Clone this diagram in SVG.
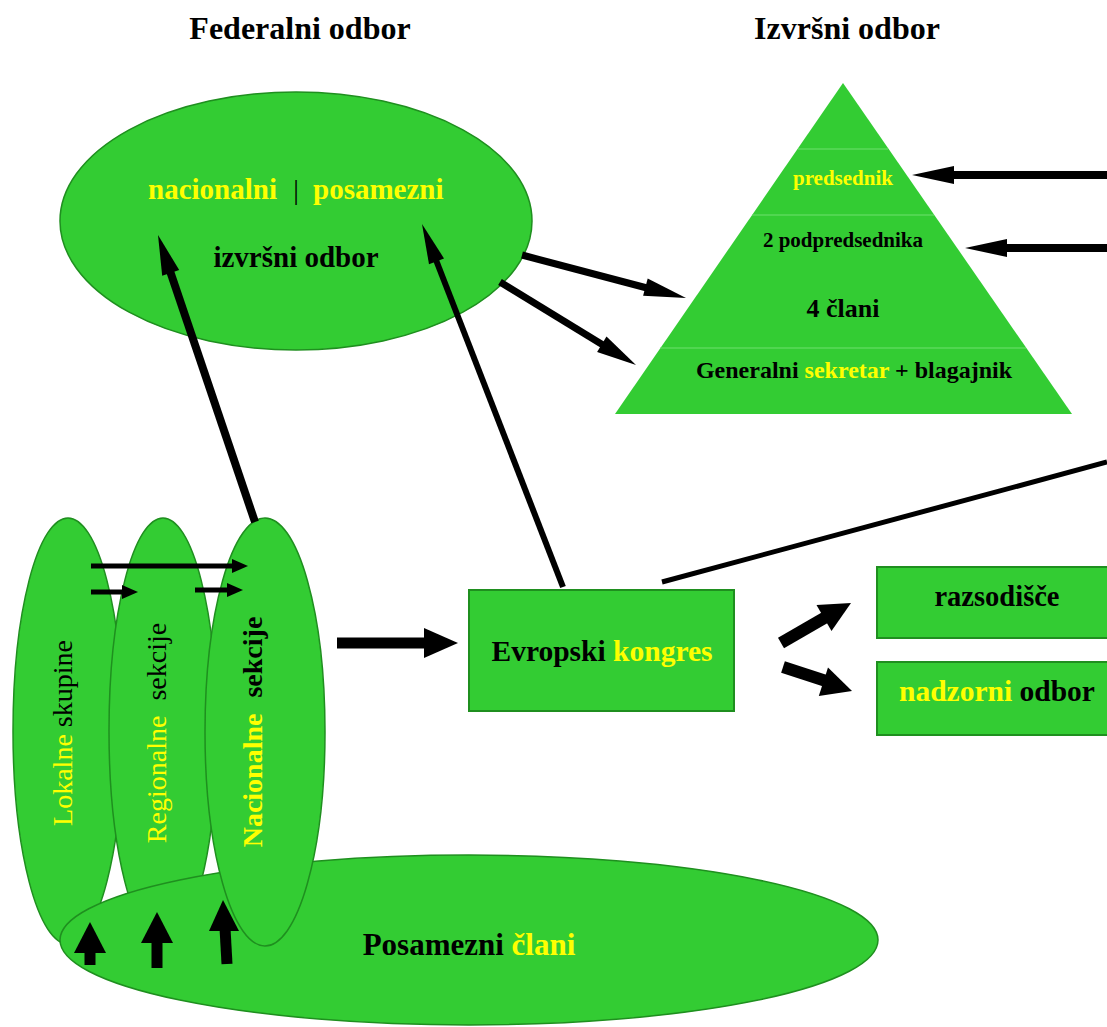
<svg xmlns="http://www.w3.org/2000/svg" width="1107" height="1027" viewBox="0 0 1107 1027">
<style>
text{font-family:"Liberation Serif","Times New Roman",serif;}
.b{font-weight:bold;}
.y{fill:#ffff00;}
.k{fill:#000000;}
.node{fill:#33cc33;stroke:#1f8f1f;stroke-width:1.5;}
.box{fill:#33cc33;stroke:#1f8f1f;stroke-width:2;}
.div{stroke:#6ee06e;stroke-width:1;}
.sh{stroke:#000;fill:none;stroke-linecap:butt;}
.hd{fill:#000;}
</style>
<rect width="1107" height="1027" fill="#ffffff"/>
<text x="300" y="39" text-anchor="middle" class="b" font-size="32">Federalni odbor</text>
<text x="847" y="39" text-anchor="middle" class="b" font-size="32">Izvršni odbor</text>

<g id="federalni">
<ellipse class="node" cx="296" cy="221" rx="236" ry="129"/>
<text x="277" y="199" text-anchor="end" class="b y" font-size="29">nacionalni</text>
<text x="296" y="199" text-anchor="middle" class="k" font-size="28">|</text>
<text x="313" y="199" class="b y" font-size="29">posamezni</text>
<text x="296" y="267" text-anchor="middle" class="b k" font-size="29">izvršni odbor</text>
</g>

<g id="izvrsni">
<polygon points="843,83 1072,414 615,414" fill="#33cc33"/>
<line class="div" x1="798" y1="149" x2="888" y2="149"/>
<line class="div" x1="752" y1="215" x2="934" y2="215"/>
<line class="div" x1="660" y1="348" x2="1026" y2="348"/>
<text x="843" y="185" text-anchor="middle" class="b y" font-size="21">predsednik</text>
<text x="843" y="247" text-anchor="middle" class="b k" font-size="21">2 podpredsednika</text>
<text x="843" y="317" text-anchor="middle" class="b k" font-size="26">4 člani</text>
<text x="854" y="378" text-anchor="middle" class="b k" font-size="24">Generalni <tspan class="y">sekretar</tspan> + blagajnik</text>
</g>

<g id="lokalne">
<ellipse class="node" cx="68" cy="731" rx="55" ry="213"/>
<text transform="translate(72,733) rotate(-90)" text-anchor="middle" font-size="28"><tspan class="y">Lokalne</tspan> <tspan class="k">skupine</tspan></text>
</g>
<g id="regionalne">
<ellipse class="node" cx="163" cy="731" rx="54" ry="213"/>
<text transform="translate(166,733) rotate(-90)" text-anchor="middle" font-size="28"><tspan class="y">Regionalne</tspan><tspan class="k" dx="15">sekcije</tspan></text>
</g>
<g id="posamezni">
<ellipse class="node" cx="469" cy="940" rx="409" ry="85"/>
<text x="469" y="955" text-anchor="middle" class="b k" font-size="31">Posamezni <tspan class="y">člani</tspan></text>
</g>
<g id="nacionalne">
<ellipse class="node" cx="265" cy="732" rx="60" ry="214"/>
<text transform="translate(262,732) rotate(-90)" text-anchor="middle" class="b" font-size="28"><tspan class="y">Nacionalne</tspan><tspan class="k" dx="16">sekcije</tspan></text>
</g>

<g id="kongres">
<rect class="box" x="469" y="590" width="265" height="121"/>
<text x="602" y="661" text-anchor="middle" class="b k" font-size="29.5">Evropski <tspan class="y">kongres</tspan></text>
</g>
<g id="razsodisce">
<rect class="box" x="877" y="567" width="240" height="71"/>
<text x="997" y="606" text-anchor="middle" class="b k" font-size="28.5">razsodišče</text>
</g>
<g id="nadzorni">
<rect class="box" x="877" y="662" width="240" height="73"/>
<text x="997" y="701" text-anchor="middle" class="b k" font-size="29.5"><tspan class="y">nadzorni</tspan> odbor</text>
</g>

<g id="connectors">
<line class="sh" x1="1107" y1="175" x2="952" y2="175" stroke-width="8"/>
<polygon class="hd" points="912,175 954,166 954,184"/>
<line class="sh" x1="1107" y1="248" x2="1005" y2="248" stroke-width="8"/>
<polygon class="hd" points="965,248 1007,239 1007,257"/>
<line class="sh" x1="522" y1="255" x2="647" y2="288" stroke-width="7"/>
<polygon class="hd" points="686,298 643.1,295.8 647.7,278.4"/>
<line class="sh" x1="500" y1="282" x2="603" y2="345" stroke-width="7"/>
<polygon class="hd" points="636,365 597.1,351.9 606.5,336.5"/>
<line class="sh" x1="255" y1="522" x2="170" y2="271" stroke-width="8"/>
<polygon class="hd" points="158,235 179.2,270 162.2,275.8"/>
<line class="sh" x1="563" y1="587" x2="436" y2="260" stroke-width="6"/>
<polygon class="hd" points="422,224 444,258.4 429,264.2"/>
<line class="sh" x1="662" y1="582" x2="1107" y2="462" stroke-width="5"/>
<line class="sh" x1="337" y1="643" x2="427" y2="643" stroke-width="11"/>
<polygon class="hd" points="458,643 424,628 424,658"/>
<line class="sh" x1="781" y1="643" x2="826" y2="617" stroke-width="12"/>
<polygon class="hd" points="851,603 831.5,631 816.5,605"/>
<line class="sh" x1="783" y1="667" x2="826" y2="681" stroke-width="12"/>
<polygon class="hd" points="852,691 818.8,696.1 828,667.5"/>
<line class="sh" x1="91" y1="566" x2="235" y2="566" stroke-width="5"/>
<polygon class="hd" points="248,566 232,559 232,573"/>
<line class="sh" x1="91" y1="592" x2="125" y2="592" stroke-width="5"/>
<polygon class="hd" points="138,592 122,585 122,599"/>
<line class="sh" x1="195" y1="590" x2="229" y2="590" stroke-width="5"/>
<polygon class="hd" points="243,590 227,583 227,597"/>
<line class="sh" x1="90" y1="965" x2="90" y2="950" stroke-width="11"/>
<polygon class="hd" points="90,922 106,953 74,953"/>
<line class="sh" x1="157" y1="968" x2="157" y2="940" stroke-width="11"/>
<polygon class="hd" points="157,912 173,943 141,943"/>
<line class="sh" x1="227" y1="964" x2="225" y2="928" stroke-width="11"/>
<polygon class="hd" points="223,900 239,931 209,931"/>
</g>
</svg>
